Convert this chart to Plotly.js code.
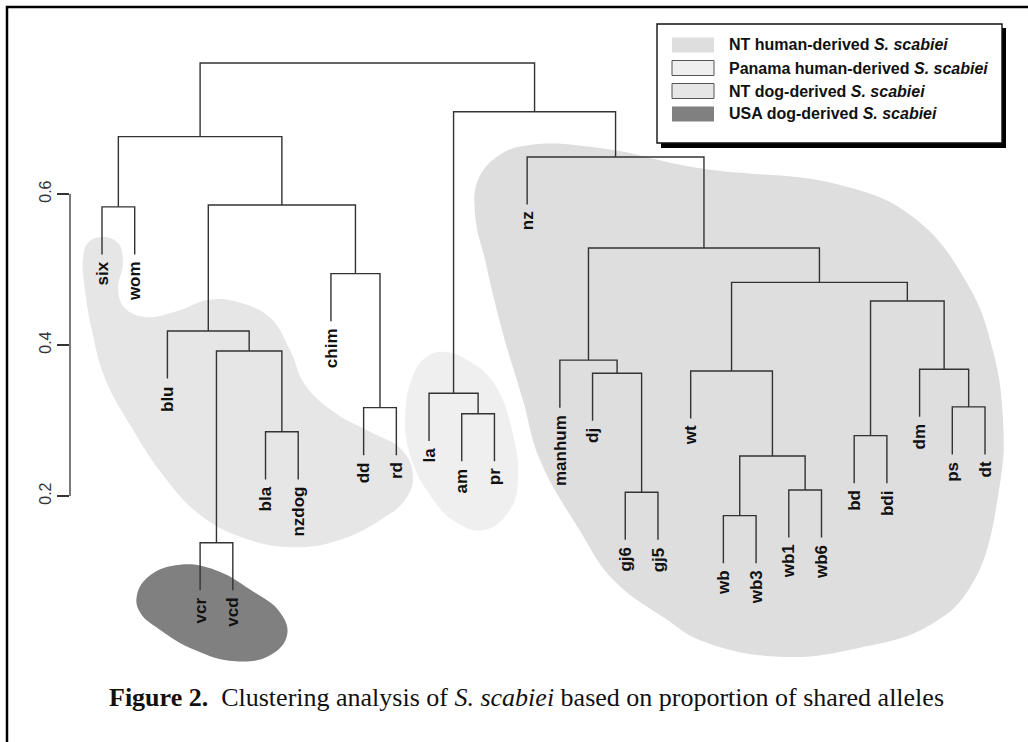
<!DOCTYPE html>
<html>
<head>
<meta charset="utf-8">
<script src="https://cdn.plot.ly/plotly-3.0.1.min.js"></script>
<style>
  html, body { margin: 0; padding: 0; background: #fff; }
  #chart { width: 1028px; height: 742px; }
</style>
</head>
<body>
<div id="chart"></div>
<script>
// leaves, left to right
const leafOrder = ['six', 'wom', 'blu', 'vcr', 'vcd', 'bla', 'nzdog', 'chim', 'dd', 'rd',
  'la', 'am', 'pr', 'nz', 'manhum', 'dj', 'gj6', 'gj5', 'wt', 'wb', 'wb3', 'wb1', 'wb6',
  'bd', 'bdi', 'dm', 'ps', 'dt'];

// merges: a string is a leaf, a number is an earlier merge step
const mergeA = ['vcr', 'wb', 'gj6', 'wb1', 1, 'bd', 'bla', 'am', 'dd', 'ps',
  'la', 'dj', 'wt', 'dm', 'manhum', 0, 'blu', 5, 12, 'chim',
  14, 'six', 16, 'nz', 21, 10, 24];
const mergeB = ['vcd', 'wb3', 'gj5', 'wb6', 3, 'bdi', 'nzdog', 'pr', 'rd', 'dt',
  7, 2, 4, 9, 11, 6, 15, 13, 17, 8,
  18, 'wom', 19, 20, 22, 23, 25];
const mergeHeight = [0.138, 0.174, 0.205, 0.208, 0.253, 0.280, 0.285, 0.309, 0.317, 0.318,
  0.336, 0.3625, 0.3656, 0.3678, 0.380, 0.392, 0.4185, 0.4583, 0.483, 0.4945,
  0.5285, 0.583, 0.5854, 0.649, 0.676, 0.709, 0.7735];
const hang = 0.063;

const yTicks = [0.2, 0.4, 0.6];

// group outlines (leaf position, height)
const ntHumanX = [14.09, 16.23, 19.29, 23.57, 25.8, 27.45, 28.24, 28.55, 28.46, 27.63, 26.32, 24.18,
  21.73, 19.29, 18.28, 16.63, 15.6, 14.39, 13.87, 13.23, 12.71, 12.41, 12.5, 13.17];
const ntHumanY = [0.665, 0.661, 0.634, 0.612, 0.5695, 0.482, 0.393, 0.30, 0.217, 0.085, 0.029, -0.001,
  -0.013, 0.009, 0.036, 0.089, 0.155, 0.248, 0.327, 0.42, 0.513, 0.572, 0.619, 0.652];
const panamaX = [11.43, 12.25, 13.02, 13.57, 13.72, 13.48, 12.71, 11.79, 11.03, 10.42, 10.27, 10.48, 10.88];
const panamaY = [0.391, 0.378, 0.347, 0.281, 0.221, 0.182, 0.155, 0.166, 0.201, 0.254, 0.307, 0.356, 0.383];
const ntDogX = [1.0, 1.49, 1.64, 1.49, 1.70, 2.32, 3.23, 4.30, 5.22, 6.14, 6.75, 7.21, 8.13, 9.20,
  10.17, 10.51, 10.27, 9.5, 8.28, 6.90, 5.22, 4.0, 2.93, 1.86, 1.09, 0.69, 0.48, 0.42, 0.57];
const ntDogY = [0.543, 0.535, 0.510, 0.473, 0.449, 0.437, 0.444, 0.460, 0.456, 0.436, 0.393, 0.347, 0.310, 0.285,
  0.261, 0.228, 0.195, 0.168, 0.142, 0.132, 0.146, 0.175, 0.224, 0.294, 0.356, 0.420, 0.473, 0.515, 0.535];
const usaDogX = [2.07, 2.47, 3.39, 4.46, 5.53, 6.44, 6.66, 6.14, 5.07, 3.84, 2.77, 2.16];
const usaDogY = [0.069, 0.095, 0.109, 0.102, 0.076, 0.046, 0.016, -0.011, -0.019, -0.004, 0.023, 0.046];

const groupNames = ['NT human-derived', 'Panama human-derived', 'NT dog-derived', 'USA dog-derived'];
const groupColors = ['#dedede', '#efefef', '#e6e6e6', '#808080'];

// dendrogram segments
const pos = {};
leafOrder.forEach((name, i) => { pos[name] = { x: i + 1 }; });
const key = (v) => (typeof v === 'number' ? 'm' + v : v);
const segX = [];
const segY = [];
mergeHeight.forEach((h, i) => {
  const a = pos[key(mergeA[i])];
  const b = pos[key(mergeB[i])];
  if (a.h === undefined) a.h = h - hang;
  if (b.h === undefined) b.h = h - hang;
  segX.push(a.x, a.x, b.x, b.x, null);
  segY.push(a.h, h, h, b.h, null);
  pos['m' + i] = { x: (a.x + b.x) / 2, h };
});

function blob(xs, ys, color) {
  return {
    x: xs.concat([xs[0]]),
    y: ys.concat([ys[0]]),
    mode: 'lines',
    fill: 'toself',
    fillcolor: color,
    line: { width: 0, shape: 'spline', smoothing: 1.2, color },
    hoverinfo: 'skip',
    showlegend: false,
  };
}

const data = [
  blob(ntHumanX, ntHumanY, groupColors[0]),
  blob(panamaX, panamaY, groupColors[1]),
  blob(ntDogX, ntDogY, groupColors[2]),
  blob(usaDogX, usaDogY, groupColors[3]),
  {
    x: segX,
    y: segY,
    mode: 'lines',
    line: { color: '#333', width: 1.4 },
    hoverinfo: 'skip',
    showlegend: false,
  },
];

// pixel -> paper helpers (plot area is 70..1018 x 20..670)
const px = (p) => (p - 70) / 948;
const py = (p) => (670 - p) / 650;

const annotations = leafOrder.map((name) => ({
  x: pos[name].x,
  y: pos[name].h,
  xref: 'x',
  yref: 'y',
  text: '<b>' + name + '</b>',
  textangle: -90,
  xanchor: 'center',
  yanchor: 'top',
  yshift: -5,
  showarrow: false,
  font: { family: 'Liberation Sans, Arial, sans-serif', size: 17, color: '#111' },
}));

const shapes = [
  // frame (top and left)
  { type: 'path', xref: 'paper', yref: 'paper',
    path: `M ${px(7)} ${py(742)} L ${px(7)} ${py(7)} L ${px(1030)} ${py(7)}`,
    line: { color: '#000', width: 2.5 } },
  // y axis line
  { type: 'line', xref: 'paper', yref: 'y', x0: 0, x1: 0, y0: 0.2, y1: 0.6,
    line: { color: '#333', width: 1.3 } },
  // legend shadow and box
  { type: 'rect', xref: 'paper', yref: 'paper', x0: px(661), x1: px(1006), y0: py(148), y1: py(28),
    fillcolor: '#000', line: { width: 0 } },
  { type: 'rect', xref: 'paper', yref: 'paper', x0: px(657), x1: px(1002), y0: py(143), y1: py(24),
    fillcolor: '#fff', line: { color: '#111', width: 1.4 } },
];

const rowY = [45, 68, 91, 114];
groupNames.forEach((name, i) => {
  const bordered = i === 1 || i === 2;
  shapes.push({
    type: 'rect', xref: 'paper', yref: 'paper',
    x0: px(672), x1: px(714), y0: py(rowY[i] + 7.5), y1: py(rowY[i] - 7.5),
    fillcolor: groupColors[i],
    line: bordered ? { color: '#555', width: 1 } : { width: 0 },
  });
  annotations.push({
    x: px(727), y: py(rowY[i]), xref: 'paper', yref: 'paper',
    text: '<b>' + name + ' <i>S. scabiei</i></b>',
    xanchor: 'left', yanchor: 'middle', showarrow: false,
    font: { family: 'Liberation Sans, Arial, sans-serif', size: 16, color: '#111' },
  });
});

annotations.push({
  x: px(526.5), y: py(697), xref: 'paper', yref: 'paper',
  text: '<b>Figure 2.</b>&nbsp; Clustering analysis of <i>S. scabiei</i> based on proportion of shared alleles',
  xanchor: 'center', yanchor: 'middle', showarrow: false,
  font: { family: 'Liberation Serif, Times New Roman, serif', size: 26, color: '#111' },
});

const layout = {
  width: 1028,
  height: 742,
  margin: { l: 70, r: 10, t: 20, b: 72 },
  paper_bgcolor: '#fff',
  plot_bgcolor: 'rgba(0,0,0,0)',
  showlegend: false,
  xaxis: { visible: false, range: [0.0215, 29.0088], fixedrange: true },
  yaxis: {
    range: [-0.03047, 0.83046],
    tickvals: yTicks,
    ticktext: yTicks.map((v) => v.toFixed(1)),
    ticks: 'outside',
    ticklen: 12,
    tickwidth: 1.3,
    tickcolor: '#333',
    tickangle: -90,
    showgrid: false,
    zeroline: false,
    showline: false,
    fixedrange: true,
    tickfont: { family: 'Liberation Sans, Arial, sans-serif', size: 16, color: '#333' },
  },
  shapes,
  annotations,
};

Plotly.newPlot('chart', data, layout, { staticPlot: true });
</script>
</body>
</html>
